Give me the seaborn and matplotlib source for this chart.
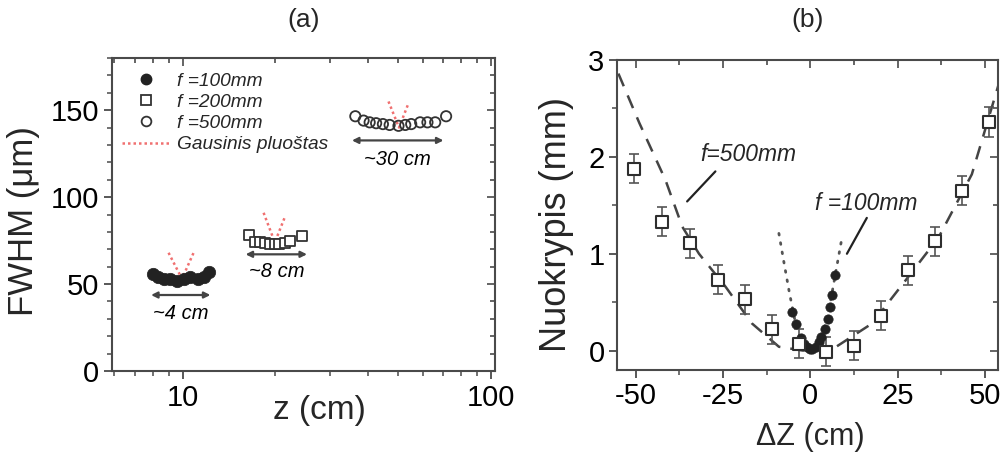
import numpy as np
import pandas as pd
import matplotlib
matplotlib.use("Agg")
import matplotlib.pyplot as plt
import seaborn as sns
from matplotlib.lines import Line2D
from matplotlib.ticker import MultipleLocator, FixedLocator, NullFormatter, FixedFormatter

# ---------------- Panel (a) data ----------------
z100 = [8.0, 8.3, 8.7, 9.1, 9.6, 10.1, 10.6, 11.2, 11.7, 12.2]
w100 = [56, 54, 53, 53, 52, 53, 54, 53, 54, 57]
z200 = [16.4, 17.1, 17.8, 18.5, 19.2, 19.9, 20.6, 21.4, 22.3, 24.4]
w200 = [78, 74, 74, 73.5, 73, 73, 73, 73.5, 75, 77.5]
z500 = [36.3, 38.6, 40.4, 42.4, 44.6, 46.9, 50.1, 52.7, 55.1, 58.9, 62.2, 65.9, 71.5]
w500 = [146.5, 144, 143, 142.5, 142, 141.5, 141, 141.5, 142, 143, 143, 143, 146.5]
gauss_z100 = [9.0, 9.95, 10.85]
gauss_w100 = [68, 53, 68]
gauss_z200 = [18.3, 19.9, 21.5]
gauss_w200 = [91, 74, 89]
gauss_z500 = [46.5, 50.3, 54.0]
gauss_w500 = [155, 140, 154]
range_labels = ["~4 cm", "~8 cm", "~30 cm"]
range_z_start = [7.9, 16.0, 35.4]
range_z_end = [12.3, 25.3, 70.1]
legend_labels = ["f =100mm", "f =200mm", "f =500mm", "Gausinis pluoštas"]

# ---------------- Panel (b) data ----------------
dz500 = [-50.5, -42.5, -34.5, -26.5, -18.7, -11.0, -3.2, 4.6, 12.5, 20.3, 27.9, 35.7, 43.5, 51.1]
off500 = [1.88, 1.33, 1.11, 0.73, 0.53, 0.22, 0.07, -0.01, 0.05, 0.36, 0.83, 1.13, 1.65, 2.36]
err500 = [0.15, 0.15, 0.15, 0.15, 0.15, 0.15, 0.15, 0.15, 0.15, 0.15, 0.15, 0.15, 0.15, 0.15]
fit500_dz = [-55, -49, -41.5, -36.7, -31.9, -24.3, -16.7, -9, -2, 7, 17.7, 27.2, 36.8, 46.3, 54]
fit500_off = [2.86, 2.35, 1.76, 1.28, 1.0, 0.66, 0.28, 0.04, 0.0, 0.03, 0.28, 0.72, 1.17, 1.82, 2.75]
dz100 = [-5.2, -4.0, -2.8, -1.8, -1.0, -0.2, 0.6, 1.5, 2.4, 3.2, 4.2, 5.0, 5.6, 6.2, 7.0]
off100 = [0.40, 0.27, 0.13, 0.07, 0.04, 0.02, 0.02, 0.04, 0.09, 0.14, 0.22, 0.33, 0.45, 0.57, 0.78]
fit100_dz = [-9, -7.5, -6, -4.5, -3, -1.5, 0, 1.5, 3, 4.5, 6, 7.5, 9]
fit100_off = [1.21, 0.9, 0.6, 0.33, 0.14, 0.04, 0.0, 0.04, 0.14, 0.3, 0.55, 0.85, 1.15]

sns.set_theme(style="ticks")
plt.rcParams["font.family"] = ["Liberation Sans", "DejaVu Sans"]
plt.rcParams["mathtext.default"] = "regular"

FRAME = "#4a4a4a"
INK = "#222222"

fig = plt.figure(figsize=(10.06, 4.53), dpi=100)
W, H = 1006, 453
def rect(l, t, r, b):
    return [l / W, 1 - b / H, (r - l) / W, (b - t) / H]

axa = fig.add_axes(rect(112, 58, 495, 371))
axb = fig.add_axes(rect(617, 60, 998, 370))

def style(ax):
    for s in ax.spines.values():
        s.set_linewidth(1.5)
        s.set_color(FRAME)
    ax.tick_params(which="major", direction="out", length=6, width=1.3,
                   color=FRAME, labelsize=21, pad=3, labelcolor="black")
    ax.tick_params(which="minor", direction="out", length=3.5, width=1.1, color=FRAME)

# ---------------- Panel (a) ----------------
ax = axa
ax.set_xscale("log")
df100 = pd.DataFrame({"z": z100, "w": w100})
df200 = pd.DataFrame({"z": z200, "w": w200})
df500 = pd.DataFrame({"z": z500, "w": w500})
for gz, gw in [(gauss_z100, gauss_w100), (gauss_z200, gauss_w200), (gauss_z500, gauss_w500)]:
    sns.lineplot(x=gz, y=gw, ax=ax, color="#f07070", lw=1.8, linestyle=(0, (1, 1.2)),
                 sort=False, estimator=None, zorder=1)
sns.scatterplot(data=df100, x="z", y="w", ax=ax, marker="o", s=80, color=INK,
                edgecolor=INK, linewidth=0.5, zorder=3)
sns.scatterplot(data=df200, x="z", y="w", ax=ax, marker="s", s=42, facecolor="white",
                edgecolor="#333333", linewidth=1.3, zorder=3)
sns.scatterplot(data=df500, x="z", y="w", ax=ax, marker="o", s=55, facecolor="none",
                edgecolor="#333333", linewidth=1.3, zorder=3)

arrow_w = [43.7, 67.1, 132.6]
text_w = [33, 57.5, 121.5]
for zs, ze, aw, tw, lab in zip(range_z_start, range_z_end, arrow_w, text_w, range_labels):
    ax.annotate("", xy=(ze, aw), xytext=(zs, aw),
                arrowprops=dict(arrowstyle="<|-|>", color="#444444", lw=1.6,
                                mutation_scale=9, shrinkA=0, shrinkB=0))
    ax.text(np.sqrt(zs * ze), tw, lab, ha="center", va="center", fontsize=14.5,
            style="italic", color="black")

ax.set_xlim(5.9, 103)
ax.set_ylim(0, 180)
ax.xaxis.set_major_locator(FixedLocator([10, 100]))
ax.xaxis.set_major_formatter(FixedFormatter(["10", "100"]))
ax.xaxis.set_minor_locator(FixedLocator([6, 7, 8, 9, 20, 30, 40, 50, 60, 70, 80, 90]))
ax.xaxis.set_minor_formatter(NullFormatter())
ax.yaxis.set_major_locator(MultipleLocator(50))
ax.yaxis.set_minor_locator(MultipleLocator(10))
ax.set_xlabel("")
ax.set_ylabel("")
style(ax)

handles = [
    Line2D([], [], marker="o", ls="", color=INK, ms=7.5),
    Line2D([], [], marker="s", ls="", mfc="white", mec="#333333", mew=1.3, ms=6.5),
    Line2D([], [], marker="o", ls="", mfc="white", mec="#333333", mew=1.3, ms=7),
    Line2D([], [], color="#f07070", lw=1.8, ls=(0, (1, 1.2))),
]
leg = ax.legend(handles, legend_labels, loc="upper left", bbox_to_anchor=(0.026, 0.955),
                frameon=False, fontsize=13.8, handlelength=2.5, handletextpad=0.35,
                labelspacing=0.2, borderpad=0, borderaxespad=0, numpoints=1)
for t in leg.get_texts():
    t.set_style("italic")

sec = ax.secondary_xaxis("top")
sec.xaxis.set_major_locator(FixedLocator([10, 100]))
sec.xaxis.set_minor_locator(FixedLocator([6, 7, 8, 9, 20, 30, 40, 50, 60, 70, 80, 90]))
sec.tick_params(which="both", direction="in", labeltop=False, color=FRAME, width=1.2)
sec.tick_params(which="major", length=6)
sec.tick_params(which="minor", length=3.5)
sec.spines["top"].set_visible(False)
secy = ax.secondary_yaxis("right")
secy.yaxis.set_major_locator(MultipleLocator(50))
secy.yaxis.set_minor_locator(MultipleLocator(10))
secy.tick_params(which="both", direction="in", labelright=False, color=FRAME, width=1.2)
secy.tick_params(which="major", length=6)
secy.tick_params(which="minor", length=3.5)
secy.spines["right"].set_visible(False)

# ---------------- Panel (b) ----------------
ax = axb
sns.lineplot(x=fit500_dz, y=fit500_off, ax=ax, color="#444444", lw=1.8,
             linestyle=(0, (5.5, 4)), sort=False, estimator=None, zorder=1)
sns.lineplot(x=fit100_dz, y=fit100_off, ax=ax, color="#555555", lw=2.0,
             linestyle=(0, (0.6, 2.8)), sort=False, estimator=None, zorder=1,
             dash_capstyle="round")
ax.errorbar(dz500, off500, yerr=err500, fmt="none", ecolor="#555555", elinewidth=1.2,
            capsize=3.5, capthick=1.2, zorder=2)
sns.scatterplot(x=dz500, y=off500, ax=ax, marker="s", s=85, facecolor="white",
                edgecolor="#2e2e2e", linewidth=1.5, zorder=4)
sns.scatterplot(x=dz100, y=off100, ax=ax, marker="o", s=45, color=INK,
                edgecolor=INK, linewidth=0.5, zorder=3)

ax.plot([-35.3, -27.2], [1.54, 1.85], color="#222222", lw=1.6)
ax.text(-31.5, 2.02, "f=500mm", ha="left", va="center", fontsize=16.5, style="italic")
ax.plot([10.5, 16.2], [1.0, 1.37], color="#222222", lw=1.6)
ax.text(1.3, 1.52, "f =100mm", ha="left", va="center", fontsize=16.5, style="italic")

ax.set_xlim(-55.4, 53.8)
ax.set_ylim(-0.2, 3)
ax.xaxis.set_major_locator(MultipleLocator(25))
ax.xaxis.set_minor_locator(MultipleLocator(12.5))
ax.yaxis.set_major_locator(MultipleLocator(1))
ax.yaxis.set_minor_locator(MultipleLocator(0.5))
ax.xaxis.set_major_formatter(matplotlib.ticker.FuncFormatter(lambda v, p: f"{v:.0f}"))
ax.set_xlabel("")
ax.set_ylabel("")
style(ax)
sec = ax.secondary_xaxis("top")
sec.xaxis.set_major_locator(MultipleLocator(25))
sec.xaxis.set_minor_locator(MultipleLocator(12.5))
sec.tick_params(which="both", direction="in", labeltop=False, color=FRAME, width=1.2)
sec.tick_params(which="major", length=6)
sec.tick_params(which="minor", length=3.5)
sec.spines["top"].set_visible(False)
secy = ax.secondary_yaxis("right")
secy.yaxis.set_major_locator(MultipleLocator(1))
secy.yaxis.set_minor_locator(MultipleLocator(0.5))
secy.tick_params(which="both", direction="in", labelright=False, color=FRAME, width=1.2)
secy.tick_params(which="major", length=6)
secy.tick_params(which="minor", length=3.5)
secy.spines["right"].set_visible(False)

# ---------------- labels & titles ----------------
fig.text(303.5 / W, 1 - 20 / H, "(a)", ha="center", va="center", fontsize=19)
fig.text(807.5 / W, 1 - 20 / H, "(b)", ha="center", va="center", fontsize=19)
fig.text(24 / W, 1 - 221 / H, "FWHM (μm)", rotation=90, ha="center", va="center", fontsize=25)
fig.text(556 / W, 1 - 224 / H, "Nuokrypis (mm)", rotation=90, ha="center", va="center", fontsize=26)
fig.text(319 / W, 1 - 410 / H, "z (cm)", ha="center", va="center", fontsize=24)
fig.text(810 / W, 1 - 437 / H, "ΔZ (cm)", ha="center", va="center", fontsize=22)

fig.savefig("out.png", dpi=100, facecolor="white")
